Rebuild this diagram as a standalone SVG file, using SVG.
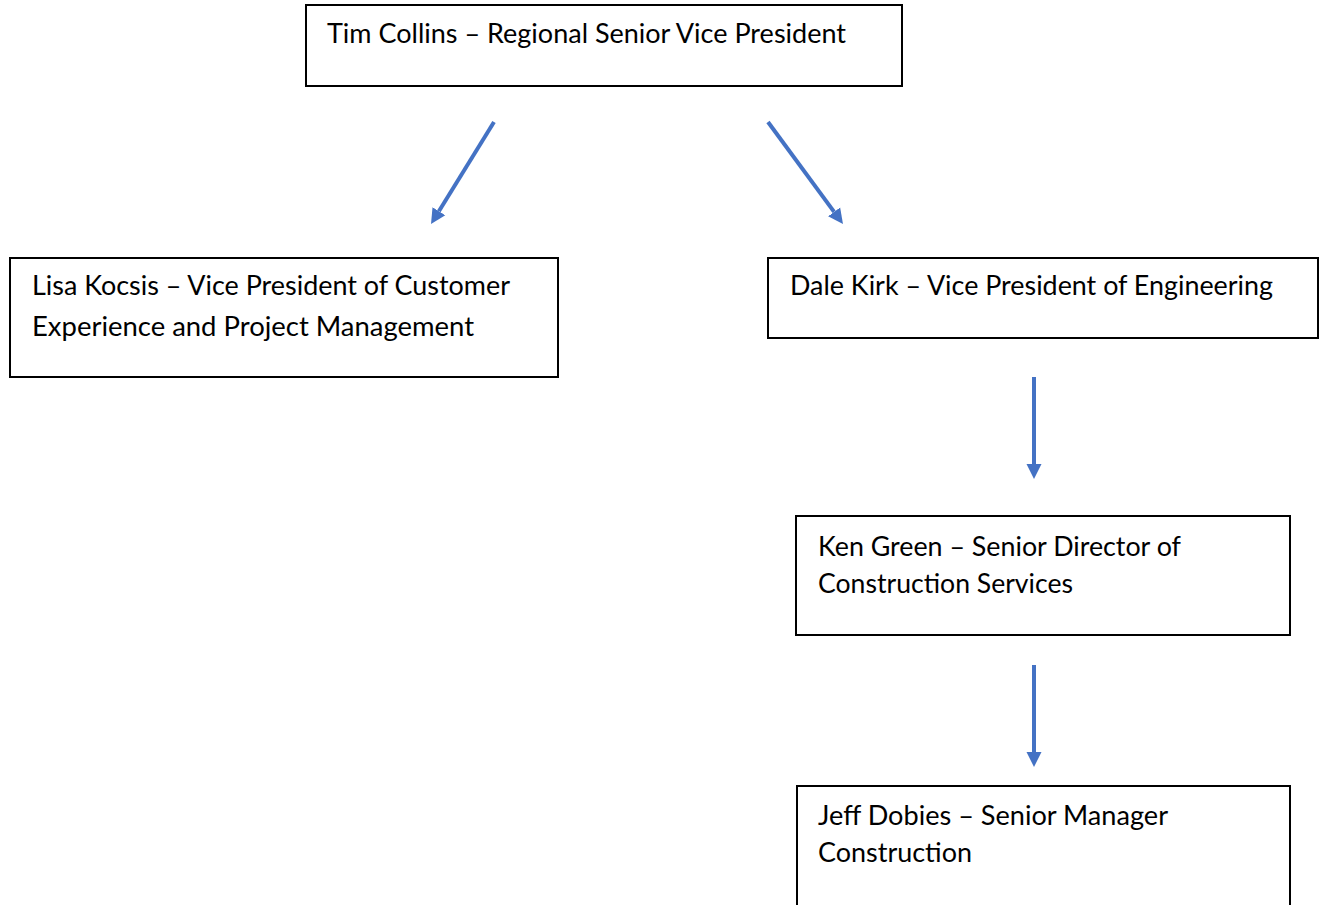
<svg xmlns="http://www.w3.org/2000/svg" width="1322" height="905" viewBox="0 0 1322 905">
<style>
.box{fill:#fff;stroke:#000;stroke-width:2}
.t{font-family:Lato,"Open Sans","Liberation Sans",sans-serif;font-size:26px;fill:#000}
.c{stroke:#4472C4;stroke-width:4;fill:none}
</style>
<defs>
<marker id="ah" markerUnits="userSpaceOnUse" markerWidth="16" markerHeight="16" viewBox="0 -8 16 16" refX="0" refY="0" orient="auto">
<path d="M0,-7.5 L15,0 L0,7.5 z" fill="#4472C4"/>
</marker>
</defs>
<rect width="1322" height="905" fill="#fff"/>
<g id="tim">
<rect class="box" x="306" y="5" width="596" height="81"/>
<text class="t" x="327" y="43" textLength="519" lengthAdjust="spacingAndGlyphs">Tim Collins – Regional Senior  Vice President</text>
</g>
<g id="lisa">
<rect class="box" x="10" y="258" width="548" height="119"/>
<text class="t" x="32" y="295" textLength="478" lengthAdjust="spacingAndGlyphs">Lisa Kocsis – Vice President of Customer</text>
<text class="t" x="32" y="336" textLength="442" lengthAdjust="spacingAndGlyphs">Experience and Project Management</text>
</g>
<g id="dale">
<rect class="box" x="768" y="258" width="550" height="80"/>
<text class="t" x="790" y="295" textLength="483" lengthAdjust="spacingAndGlyphs">Dale Kirk – Vice President of Engineering</text>
</g>
<g id="ken">
<rect class="box" x="796" y="516" width="494" height="119"/>
<text class="t" x="818" y="556" textLength="363" lengthAdjust="spacingAndGlyphs">Ken Green – Senior Director of</text>
<text class="t" x="818" y="593" textLength="255" lengthAdjust="spacingAndGlyphs">Construction Services</text>
</g>
<g id="jeff">
<rect class="box" x="797" y="786" width="493" height="125"/>
<text class="t" x="818" y="825" textLength="350" lengthAdjust="spacingAndGlyphs">Jeff Dobies – Senior  Manager</text>
<text class="t" x="818" y="862" textLength="154" lengthAdjust="spacingAndGlyphs">Construction</text>
</g>
<g id="connectors">
<line class="c" x1="494" y1="122" x2="438.9" y2="211.2" marker-end="url(#ah)"/>
<line class="c" x1="768" y1="122" x2="834.1" y2="211.9" marker-end="url(#ah)"/>
<line class="c" x1="1034" y1="377" x2="1034" y2="464" marker-end="url(#ah)"/>
<line class="c" x1="1034" y1="665" x2="1034" y2="752" marker-end="url(#ah)"/>
</g>
</svg>
